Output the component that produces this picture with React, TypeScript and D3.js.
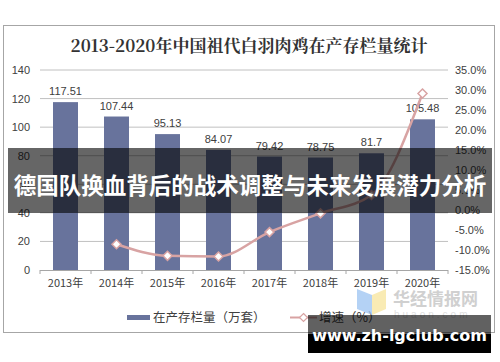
import React from "react";
import * as d3 from "d3";

const years = ["2013年", "2014年", "2015年", "2016年", "2017年", "2018年", "2019年", "2020年"];
const stock = [117.51, 107.44, 95.13, 84.07, 79.42, 78.75, 81.7, 105.48];
const stockLabels = ["117.51", "107.44", "95.13", "84.07", "79.42", "78.75", "81.7", "105.48"];
const growth: (number | null)[] = [null, -8.57, -11.46, -11.63, -5.53, -0.84, 3.75, 29.11];
const leftTicks = [0, 20, 40, 60, 80, 100, 120, 140];
const rightTicks = [-15, -10, -5, 0, 5, 10, 15, 20, 25, 30, 35];
const titleText = "2013-2020年中国祖代白羽肉鸡在产存栏量统计";
const legendBar = "在产存栏量（万套）";
const legendLine = "增速（%）";
const bannerText = "德国队换血背后的战术调整与未来发展潜力分析";
const siteText = "www.zh-lgclub.com";

export default function App() {
  const W = 500, H = 362;
  const x0 = 40, x1 = 448, yTop = 70, yBot = 270;
  const x = d3.scaleBand<string>().domain(years).range([x0, x1]).paddingInner(0.51).paddingOuter(0.255);
  const band = d3.scaleBand<string>().domain(years).range([x0, x1]);
  const yL = d3.scaleLinear().domain([0, 140]).range([yBot, yTop]);
  const yR = d3.scaleLinear().domain([-15, 35]).range([yBot, yTop]);
  const pts = years
    .map((yr, i) => ({ yr, v: growth[i] }))
    .filter((d) => d.v !== null) as { yr: string; v: number }[];
  const line = d3
    .line<{ yr: string; v: number }>()
    .x((d) => (band(d.yr) as number) + band.bandwidth() / 2)
    .y((d) => yR(d.v))
    .curve(d3.curveMonotoneX);
  const fmtR = (v: number) => v.toFixed(1) + "%";
  const barColor = "#68739c";
  const lineColor = "#d8a3a3";
  const sans = "Liberation Sans, Arial, sans-serif";
  const cjk = "'Noto Sans CJK SC', sans-serif";
  const diamond = (cx: number, cy: number, r: number) =>
    `M${cx},${cy - r}L${cx + r},${cy}L${cx},${cy + r}L${cx - r},${cy}Z`;

  return (
    <svg width={W} height={H} style={{ position: "absolute", left: 0, top: 0 }}>
      <rect x={0} y={0} width={W} height={H} fill="#fff" />
      <rect x={3.5} y={25.5} width={491} height={307} fill="#fff" stroke="#a6a6a6" strokeWidth={1} />
      <text x={249} y={52} textAnchor="middle" fontFamily={"'Noto Serif CJK SC', 'Noto Sans CJK SC', serif"} fontWeight={700} fontSize={17} fill="#333">
        {titleText}
      </text>
      {leftTicks.map((t) => (
        <g key={"g" + t}>
          {t > 0 && <line x1={x0} x2={x1} y1={yL(t)} y2={yL(t)} stroke="#c0c0c0" strokeWidth={1} />}
          <text x={30} y={yL(t) + 4} textAnchor="end" fontFamily={sans} fontSize={11} fill="#404040">
            {t}
          </text>
        </g>
      ))}
      {rightTicks.map((t) => (
        <text key={"r" + t} x={455} y={yR(t) + 4} fontFamily={sans} fontSize={11} fill="#404040">
          {fmtR(t)}
        </text>
      ))}
      {years.map((yr, i) => (
        <g key={yr}>
          <rect x={x(yr)} y={yL(stock[i])} width={x.bandwidth()} height={yBot - yL(stock[i])} fill={barColor} />
          <text x={(x(yr) as number) + x.bandwidth() / 2} y={yL(stock[i]) - 7} textAnchor="middle" fontFamily={sans} fontSize={11} fill="#404040">
            {stockLabels[i]}
          </text>
          <text x={(band(yr) as number) + band.bandwidth() / 2} y={287} textAnchor="middle" fontFamily={cjk} fontSize={11} fill="#404040">
            {yr}
          </text>
        </g>
      ))}
      <line x1={x0} x2={x1} y1={yBot + 0.5} y2={yBot + 0.5} stroke="#a6a6a6" strokeWidth={1} />
      {years.concat(["end"]).map((yr, i) => {
        const xx = x0 + i * band.bandwidth();
        return <line key={"t" + i} x1={xx} x2={xx} y1={yBot} y2={yBot + 4} stroke="#a6a6a6" />;
      })}
      <path d={line(pts) || ""} fill="none" stroke={lineColor} strokeWidth={2.5} />
      {pts.map((d) => (
        <path
          key={"m" + d.yr}
          d={diamond((band(d.yr) as number) + band.bandwidth() / 2, yR(d.v), 4.5)}
          fill="#fff"
          stroke={lineColor}
          strokeWidth={1.5}
        />
      ))}
      {/* legend */}
      <rect x={127} y={315} width={23} height={5} fill={barColor} />
      <text x={153} y={321.5} fontFamily={cjk} fontSize={12.5} fill="#404040">
        {legendBar}
      </text>
      <line x1={290} x2={317} y1={317.5} y2={317.5} stroke={lineColor} strokeWidth={2} />
      <path d={diamond(303.5, 317.5, 4)} fill="#fff" stroke={lineColor} strokeWidth={1.2} />
      <text x={319} y={321.5} fontFamily={cjk} fontSize={12.5} fill="#404040">
        {legendLine}
      </text>
      {/* watermark */}
      <g opacity={0.75}>
        <polygon points="357,289 372,295 372,315 357,309" fill="#9cc3f2" />
        <polygon points="372,295 386,289 386,309 372,315" fill="#f7e59c" />
      </g>
      <text x={393} y={305} fontFamily={cjk} fontWeight={700} fontSize={17} fill="#d0d0d0">
        华经情报网
      </text>
      <text x={394} y={318} fontFamily={sans} fontSize={10} letterSpacing={3} fill="#e0e0e0">
        huaon.com
      </text>
      {/* banner */}
      <rect x={8} y={148} width={484} height={65} fill="rgba(0,0,0,0.6)" />
      <text x={250} y={194} textAnchor="middle" fontFamily={cjk} fontWeight={700} fontSize={22.5} fill="#fff">
        {bannerText}
      </text>
      {/* site box */}
      <rect x={308} y={315} width={183} height={19} fill="rgba(0,0,0,0.62)" />
      <rect x={308} y={334} width={183} height={19} fill="#000" />
      <text x={399.5} y={341} textAnchor="middle" fontFamily={"'DejaVu Sans', sans-serif"} fontWeight={700} fontSize={16} fill="#fff">
        {siteText}
      </text>
    </svg>
  );
}
